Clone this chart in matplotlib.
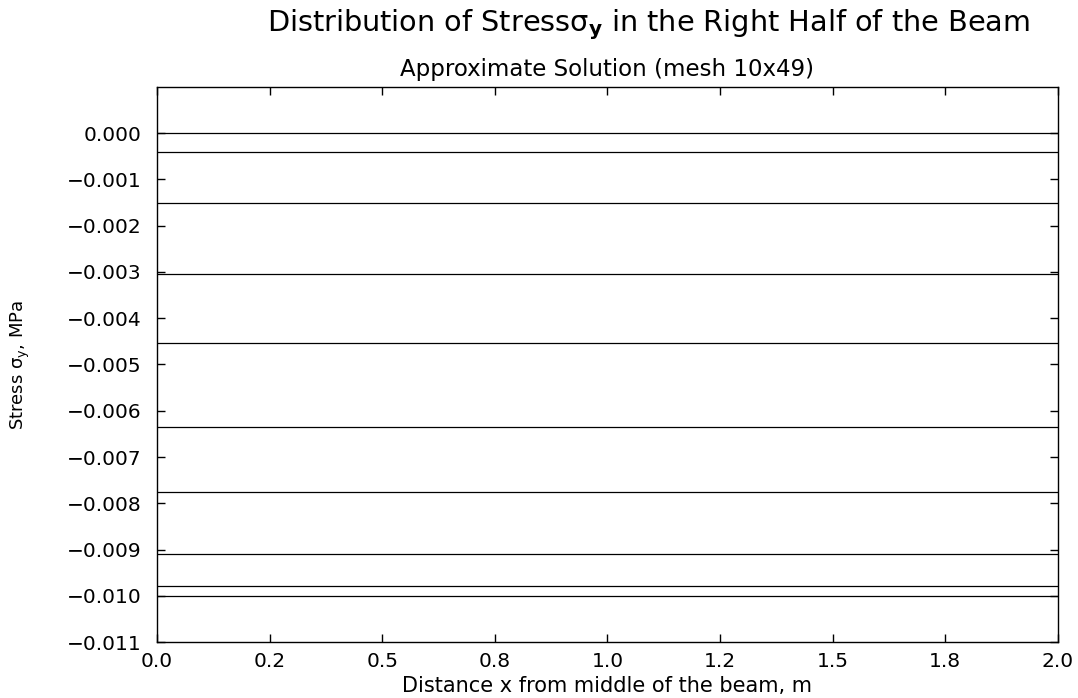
import matplotlib
matplotlib.use("Agg")
import matplotlib.pyplot as plt
from matplotlib.ticker import FuncFormatter, FixedLocator

# ---- data ----
x_range = [0.0, 2.0]
stress_levels = [0.0, -0.00041, -0.0015, -0.00305, -0.00454,
                 -0.00636, -0.00775, -0.00909, -0.00979, -0.0100]
x_ticks = [0.0, 0.25, 0.5, 0.75, 1.0, 1.25, 1.5, 1.75, 2.0]
y_ticks = [0.0, -0.001, -0.002, -0.003, -0.004, -0.005, -0.006,
           -0.007, -0.008, -0.009, -0.010, -0.011]

plt.rcParams['font.family'] = ['DejaVu Sans']
plt.rcParams['mathtext.fontset'] = 'custom'
plt.rcParams['mathtext.rm'] = 'DejaVu Sans'
plt.rcParams['mathtext.it'] = 'DejaVu Sans'
plt.rcParams['mathtext.bf'] = 'DejaVu Sans:bold'

fig = plt.figure(figsize=(10.78, 6.98), dpi=100)
ax = fig.add_axes([0.1456, 0.0802, 0.8358, 0.7952])

for v in stress_levels:
    ax.plot(x_range, [v, v], color='black', lw=0.9)

ax.set_xlim(0.0, 2.0)
ax.set_ylim(-0.011, 0.001)
ax.xaxis.set_major_locator(FixedLocator(x_ticks))
ax.yaxis.set_major_locator(FixedLocator(y_ticks))
ax.xaxis.set_major_formatter(FuncFormatter(lambda v, p: ("%.1f" % v).replace('-', '\u2212')))
ax.yaxis.set_major_formatter(FuncFormatter(lambda v, p: ("%.3f" % v).replace('-', '\u2212')))
ax.tick_params(direction='in', length=6, width=1, top=True, right=True,
               labelsize=14.5)
ax.tick_params(axis='y', pad=11)
ax.tick_params(axis='x', pad=7)
for s in ax.spines.values():
    s.set_linewidth(1)

fig.text(0.602, 0.9556, r"Distribution of Stress$\mathregular{\sigma_\mathbf{y}}$ in the Right Half of the Beam",
         ha='center', va='baseline', fontsize=20.7)
fig.text(0.563, 0.891, "Approximate Solution (mesh 10x49)",
         ha='center', va='baseline', fontsize=16.5)
fig.text(0.563, 0.009, "Distance x from middle of the beam, m",
         ha='center', va='baseline', fontsize=15)
fig.text(0.019, 0.477, r"Stress $\sigma_y$, MPa", rotation=90,
         ha='center', va='center', fontsize=13)

fig.savefig("out.png", dpi=100)
